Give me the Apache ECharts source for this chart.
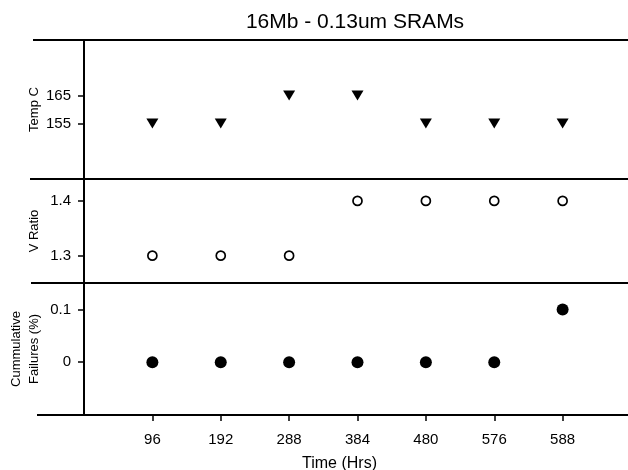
<!DOCTYPE html>
<html>
<head>
<meta charset="utf-8">
<script src="https://cdn.jsdelivr.net/npm/echarts@6/dist/echarts.min.js"></script>
<style>html,body{margin:0;padding:0;background:#fff}#c{width:628px;height:470px}</style>
</head>
<body>
<div id="c"></div>
<script>
const categories = ['96', '192', '288', '384', '480', '576', '588'];
const tempC = [155, 155, 165, 165, 155, 155, 155];
const vRatio = [1.3, 1.3, 1.3, 1.4, 1.4, 1.4, 1.4];
const failures = [0, 0, 0, 0, 0, 0, 0.1];
const tempTicks = [155, 165];
const vTicks = [1.3, 1.4];
const failTicks = [0, 0.1];

const FONT = 'Liberation Sans, Arial, sans-serif';
const L = 84, W = 547;
const panels = [
  {top: 40, height: 139},
  {top: 179, height: 104},
  {top: 283, height: 132}
];
const positions = categories.map((c, i) => i + 1);
const pts = arr => arr.map((v, i) => [i + 1, v]);

const chart = echarts.init(document.getElementById('c'), null, {renderer: 'canvas'});

const xAxisBase = (gi, show) => ({
  type: 'value', gridIndex: gi, min: 0, max: 8,
  show: show,
  splitLine: {show: false},
  axisLine: {show: show, onZero: false, lineStyle: {color: '#000', width: 2}},
  axisTick: {show: show, customValues: positions, length: 6, inside: false, lineStyle: {color: '#000', width: 1.5}},
  axisLabel: {show: show, customValues: positions, formatter: v => categories[Math.round(v) - 1] || '',
    color: '#000', fontFamily: FONT, fontSize: 15, margin: 17},
  name: show ? 'Time (Hrs)' : '',
  nameLocation: 'middle', nameGap: 41,
  nameTextStyle: {color: '#000', fontFamily: FONT, fontSize: 16, padding: [0, 0, 0, -36]}
});

const yAxisBase = (gi, min, max, ticks, name, gap) => ({
  type: 'value', gridIndex: gi, min: min, max: max,
  splitLine: {show: false},
  axisLine: {show: true, onZero: false, lineStyle: {color: '#000', width: 2}},
  axisTick: {show: true, customValues: ticks, length: 6, lineStyle: {color: '#000', width: 1.5}},
  axisLabel: {customValues: ticks, color: '#000', fontFamily: FONT, fontSize: 15, margin: 13,
    formatter: v => String(Math.round(v * 100) / 100)},
  name: name, nameLocation: 'middle', nameGap: gap, nameMoveOverlap: false,
  nameTextStyle: {color: '#000', fontFamily: FONT, fontSize: 13, lineHeight: 18}
});

const sepLines = [
  {y: 40, x1: 33}, {y: 179, x1: 30}, {y: 283, x1: 31}
];

chart.setOption({
  animation: false,
  backgroundColor: '#fff',
  title: {
    text: '16Mb - 0.13um SRAMs', left: 350, top: 7, textAlign: 'center',
    textStyle: {color: '#000', fontFamily: FONT, fontSize: 21, fontWeight: 'normal'}
  },
  grid: panels.map(p => ({left: L, width: W, top: p.top, height: p.height,
    containLabel: false, outerBoundsMode: 'none'})),
  xAxis: [xAxisBase(0, false), xAxisBase(1, false), xAxisBase(2, true)],
  yAxis: [
    yAxisBase(0, 135, 185, tempTicks, 'Temp C', 41),
    yAxisBase(1, 1.25, 1.44, vTicks, 'V Ratio', 41),
    yAxisBase(2, -0.1, 0.15, failTicks, 'Cummulative\nFailures (%)', 41)
  ],
  graphic: sepLines.map(s => ({
    type: 'line', silent: true, z: 10,
    shape: {x1: s.x1, y1: s.y, x2: 628, y2: s.y},
    style: {stroke: '#000', lineWidth: 2}
  })).concat([{
    type: 'line', silent: true, z: 10,
    shape: {x1: 37, y1: 415, x2: L, y2: 415},
    style: {stroke: '#000', lineWidth: 2}
  }]),
  series: [
    {type: 'scatter', xAxisIndex: 0, yAxisIndex: 0, data: pts(tempC),
      symbol: 'triangle', symbolRotate: 180, symbolSize: [12, 10],
      itemStyle: {color: '#000', opacity: 1}},
    {type: 'scatter', xAxisIndex: 1, yAxisIndex: 1, data: pts(vRatio),
      symbol: 'circle', symbolSize: 9,
      itemStyle: {color: '#fff', borderColor: '#000', borderWidth: 1.7, opacity: 1}},
    {type: 'scatter', xAxisIndex: 2, yAxisIndex: 2, data: pts(failures),
      symbol: 'circle', symbolSize: 12,
      itemStyle: {color: '#000', opacity: 1}}
  ]
});
</script>
</body>
</html>
